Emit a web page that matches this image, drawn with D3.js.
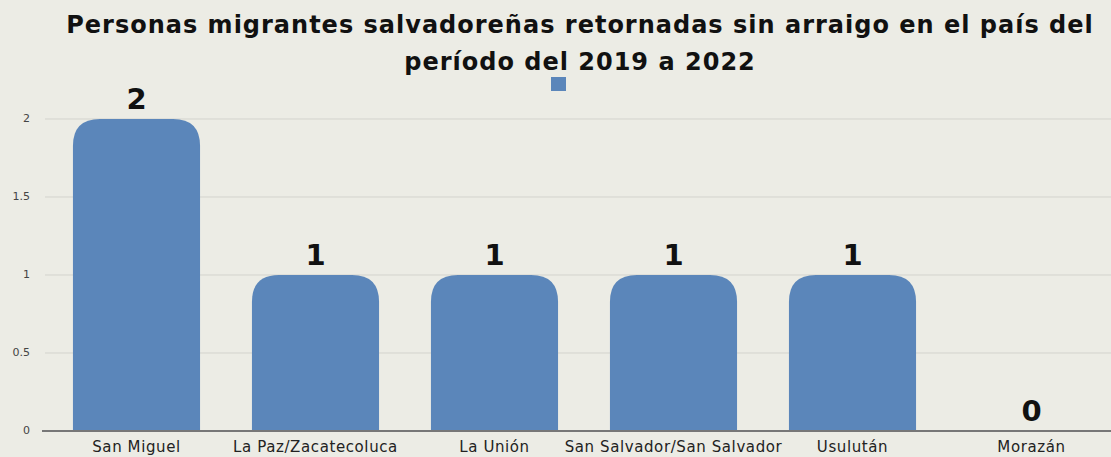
<!DOCTYPE html>
<html>
<head>
<meta charset="utf-8">
<script src="https://cdn.jsdelivr.net/npm/d3@7"></script>
<style>
  body { margin: 0; background: #ecece5; }
  svg { display: block; }
</style>
</head>
<body>
<script>
var categories = ["San Miguel", "La Paz/Zacatecoluca", "La Unión", "San Salvador/San Salvador", "Usulután", "Morazán"];
var values = [2, 1, 1, 1, 1, 0];
var yTicks = [0, 0.5, 1, 1.5, 2];
var titleLines = ["Personas migrantes salvadoreñas retornadas sin arraigo en el país del", "período del 2019 a 2022"];

var width = 1111, height = 457;
var barColor = "#5b86ba";

var svg = d3.select("body").append("svg").attr("width", width).attr("height", height);
svg.append("rect").attr("width", width).attr("height", height).attr("fill", "#ecece5");

var x = d3.scaleBand().domain(categories).range([47, 1121]).paddingInner(0.29).paddingOuter(0.145);
var y = d3.scaleLinear().domain([0, 2]).range([431, 119]);

// gridlines
svg.selectAll("line.grid")
  .data(yTicks.filter(function(d){ return d > 0; }))
  .enter().append("line")
    .attr("class", "grid")
    .attr("x1", 45).attr("x2", width)
    .attr("y1", function(d){ return y(d); })
    .attr("y2", function(d){ return y(d); })
    .attr("stroke", "#d3d3cd")
    .attr("stroke-width", 1);

// y tick labels
svg.selectAll("text.ytick")
  .data(yTicks)
  .enter().append("text")
    .attr("class", "ytick")
    .attr("x", 30)
    .attr("y", function(d){ return y(d); })
    .attr("text-anchor", "end")
    .attr("dominant-baseline", "middle")
    .attr("font-family", "DejaVu Sans")
    .attr("font-size", 11)
    .attr("fill", "#444")
    .text(function(d){ return d; });

// bars with rounded top corners
var r = 27;
svg.selectAll("path.bar")
  .data(values.map(function(v, i){ return {cat: categories[i], v: v}; }).filter(function(d){ return d.v > 0; }))
  .enter().append("path")
    .attr("class", "bar")
    .attr("fill", barColor)
    .attr("d", function(d){
      var x0 = x(d.cat), w = x.bandwidth(), y0 = y(d.v), yb = y(0);
      var rr = Math.min(r, (yb - y0));
      return "M" + x0 + "," + yb +
        "L" + x0 + "," + (y0 + rr) +
        "Q" + x0 + "," + y0 + " " + (x0 + rr) + "," + y0 +
        "L" + (x0 + w - rr) + "," + y0 +
        "Q" + (x0 + w) + "," + y0 + " " + (x0 + w) + "," + (y0 + rr) +
        "L" + (x0 + w) + "," + yb + "Z";
    });

// baseline
svg.append("line")
  .attr("x1", 42).attr("x2", width)
  .attr("y1", y(0)).attr("y2", y(0))
  .attr("stroke", "#777")
  .attr("stroke-width", 2);

// value labels
svg.selectAll("text.val")
  .data(values)
  .enter().append("text")
    .attr("class", "val")
    .attr("x", function(d, i){ return x(categories[i]) + x.bandwidth() / 2; })
    .attr("y", function(d){ return y(d) - 10; })
    .attr("text-anchor", "middle")
    .attr("font-family", "DejaVu Sans")
    .attr("font-weight", "bold")
    .attr("font-size", 29)
    .attr("fill", "#111")
    .text(function(d){ return d; });

// category labels
svg.selectAll("text.cat")
  .data(categories)
  .enter().append("text")
    .attr("class", "cat")
    .attr("x", function(d){ return x(d) + x.bandwidth() / 2; })
    .attr("y", 452)
    .attr("text-anchor", "middle")
    .attr("font-family", "DejaVu Sans")
    .attr("font-size", 15)
    .attr("letter-spacing", 0.6)
    .attr("fill", "#222")
    .text(function(d){ return d; });

// title
svg.selectAll("text.title")
  .data(titleLines)
  .enter().append("text")
    .attr("class", "title")
    .attr("x", 580)
    .attr("y", function(d, i){ return 33 + i * 37; })
    .attr("text-anchor", "middle")
    .attr("font-family", "DejaVu Sans")
    .attr("font-weight", "bold")
    .attr("font-size", 24)
    .attr("letter-spacing", 1)
    .attr("fill", "#111")
    .text(function(d){ return d; });

// legend swatch
svg.append("rect")
  .attr("x", 551).attr("y", 77)
  .attr("width", 15).attr("height", 14)
  .attr("fill", barColor);
</script>
</body>
</html>
